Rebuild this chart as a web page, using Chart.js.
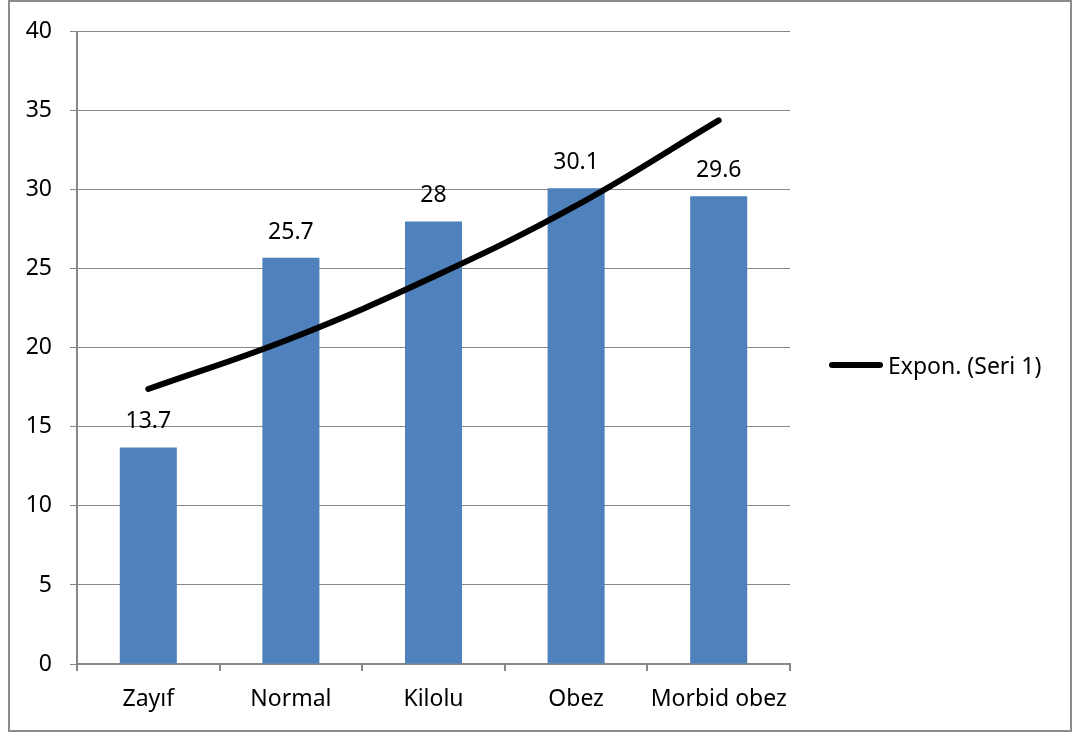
<!DOCTYPE html>
<html>
<head>
<meta charset="utf-8">
<script src="https://cdn.jsdelivr.net/npm/chart.js@4.4.1/dist/chart.umd.min.js"></script>
<style>
  html, body { margin: 0; padding: 0; background: #fff; }
  #wrap { position: relative; width: 1073px; height: 733px; }
  #frame {
    position: absolute; left: 8px; top: 0; width: 1060px; height: 728px;
    border: 2px solid #8c8c8c; pointer-events: none;
  }
  #legend {
    position: absolute; left: 829px; top: 351px; height: 28px;
    display: flex; align-items: center;
    font-family: "Noto Sans", sans-serif; font-size: 23px; color: #000;
  }
  #legend .swatch {
    width: 54px; height: 6px; background: #000; border-radius: 3px; margin-right: 5px;
  }
</style>
</head>
<body>
<div id="wrap">
  <canvas id="chart" width="1073" height="733"></canvas>
  <div id="frame"></div>
  <div id="legend"><span class="swatch"></span><span id="legendText"></span></div>
</div>
<script>
// BMI groups and their values
const categories = ["Zayıf", "Normal", "Kilolu", "Obez", "Morbid obez"];
const seriesValues = [13.7, 25.7, 28, 30.1, 29.6];
// exponential trend line evaluated at each category
const trendValues = [17.4, 20.6, 24.5, 29.0, 34.4];
const yTicks = [0, 5, 10, 15, 20, 25, 30, 35, 40];
const trendLabel = "Expon. (Seri 1)";

document.getElementById("legendText").textContent = trendLabel;

const FONT = { family: "'Noto Sans', sans-serif", size: 23 };
const GRID = "#878787";

// writes each bar's value above it
const valueLabels = {
  id: "valueLabels",
  afterDatasetsDraw(chart) {
    const meta = chart.getDatasetMeta(0);
    const ctx = chart.ctx;
    ctx.save();
    ctx.font = `${FONT.size}px ${FONT.family}`;
    ctx.fillStyle = "#000";
    ctx.textAlign = "center";
    ctx.textBaseline = "alphabetic";
    meta.data.forEach((bar, i) => {
      ctx.fillText(String(seriesValues[i]), bar.x, bar.y - 19);
    });
    ctx.restore();
  }
};

new Chart(document.getElementById("chart"), {
  data: {
    labels: categories,
    datasets: [
      {
        type: "bar",
        label: "Seri 1",
        data: seriesValues,
        backgroundColor: "#4F81BD",
        categoryPercentage: 1,
        barPercentage: 0.4,
        order: 1
      },
      {
        type: "line",
        label: trendLabel,
        data: trendValues,
        borderColor: "#000",
        borderWidth: 6,
        borderCapStyle: "round",
        tension: 0.4,
        pointRadius: 0,
        fill: false,
        order: 0
      }
    ]
  },
  options: {
    responsive: false,
    animation: false,
    layout: { padding: { top: 31, left: 0, right: 283, bottom: 0 } },
    plugins: { legend: { display: false }, tooltip: { enabled: false } },
    scales: {
      x: {
        offset: true,
        grid: { offset: true, drawOnChartArea: false, drawTicks: true, tickLength: 7, color: GRID, lineWidth: 2 },
        border: { color: GRID, width: 2 },
        ticks: { font: FONT, color: "#000", padding: 15, maxRotation: 0 },
        afterFit(scale) { scale.height = 69; }
      },
      y: {
        min: 0,
        max: 40,
        afterBuildTicks(scale) { scale.ticks = yTicks.map(v => ({ value: v })); },
        grid: { color: GRID, lineWidth: 1, tickLength: 7 },
        border: { color: GRID, width: 2 },
        ticks: { font: FONT, color: "#000", padding: 18 },
        afterFit(scale) { scale.width = 77; }
      }
    }
  },
  plugins: [valueLabels]
});
</script>
</body>
</html>
